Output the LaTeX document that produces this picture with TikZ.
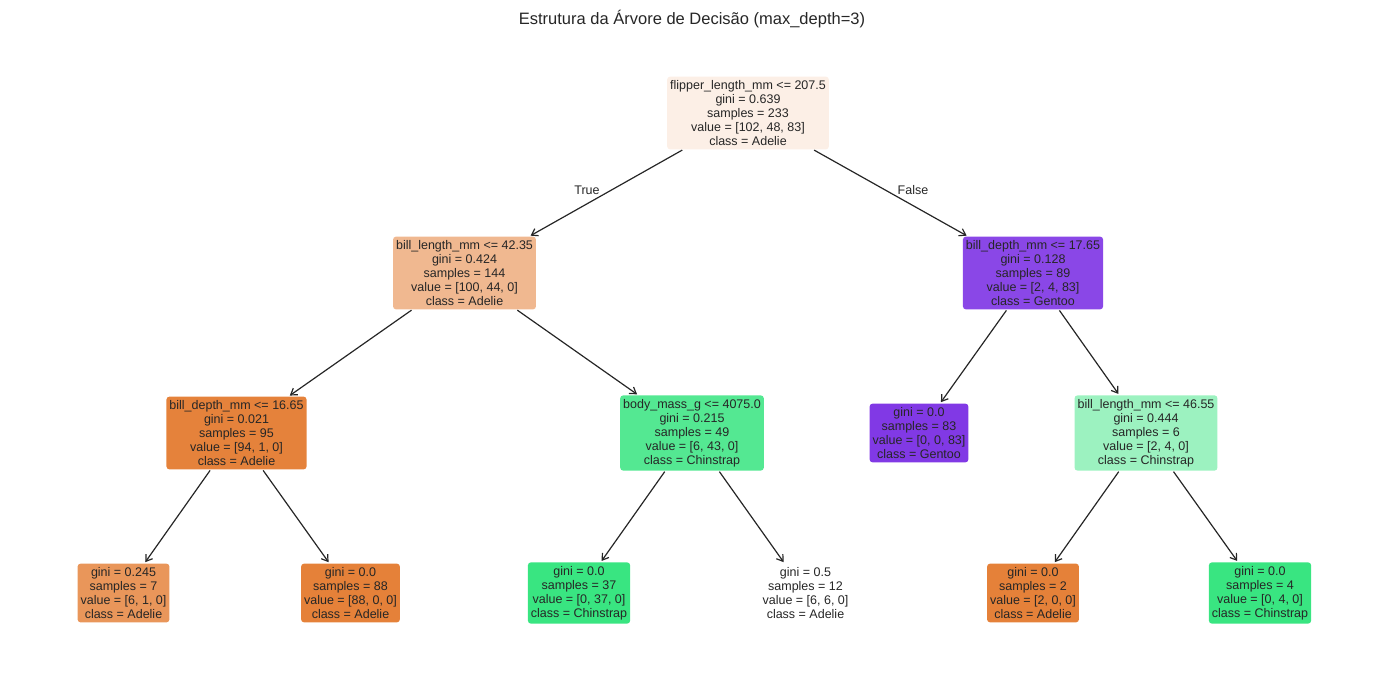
\documentclass[tikz,border=0pt]{standalone}
\usepackage{fontspec}
\setmainfont{Liberation Sans}
\usetikzlibrary{arrows.meta}
\definecolor{txt}{HTML}{262626}
\definecolor{cRoot}{HTML}{FCEFE6}
\definecolor{cA}{HTML}{F0B890}
\definecolor{cB}{HTML}{8A47E7}
\definecolor{cC}{HTML}{E5823B}
\definecolor{cD}{HTML}{54E892}
\definecolor{cE}{HTML}{8139E5}
\definecolor{cF}{HTML}{9CF2C0}
\definecolor{cG}{HTML}{E9965A}
\definecolor{cH}{HTML}{E58139}
\definecolor{cI}{HTML}{39E581}
\begin{document}
\begin{tikzpicture}[x=1pt,y=-1pt,
  tnode/.style={rounded corners=3pt, align=center, inner xsep=3pt, inner ysep=3.8pt,
    text=txt, font=\fontsize{12.5}{14}\selectfont},
  edge/.style={draw=txt, line width=1.2pt, shorten >=1.5pt, shorten <=1pt,
    -{Straight Barb[length=6pt,width=8pt,line width=1.2pt]}},
  lbl/.style={text=txt, font=\fontsize{12.5}{14}\selectfont}]
\useasboundingbox (0,0) rectangle (1384,684);
\node[text=txt, font=\fontsize{16.5}{18}\selectfont] (title) at (692,19) {Estrutura da Árvore de Decisão (max\_depth=3)};
\node[tnode, fill=cRoot] (root) at (748,113) {flipper\_length\_mm <= 207.5\\gini = 0.639\\samples = 233\\value = [102, 48, 83]\\class = Adelie};
\node[tnode, fill=cA] (n1) at (464.5,273) {bill\_length\_mm <= 42.35\\gini = 0.424\\samples = 144\\value = [100, 44, 0]\\class = Adelie};
\node[tnode, fill=cB] (n2) at (1033,273) {bill\_depth\_mm <= 17.65\\gini = 0.128\\samples = 89\\value = [2, 4, 83]\\class = Gentoo};
\node[tnode, fill=cC] (n3) at (236.5,433) {bill\_depth\_mm <= 16.65\\gini = 0.021\\samples = 95\\value = [94, 1, 0]\\class = Adelie};
\node[tnode, fill=cD] (n4) at (692,433) {body\_mass\_g <= 4075.0\\gini = 0.215\\samples = 49\\value = [6, 43, 0]\\class = Chinstrap};
\node[tnode, fill=cE] (n5) at (919,433) {gini = 0.0\\samples = 83\\value = [0, 0, 83]\\class = Gentoo};
\node[tnode, fill=cF] (n6) at (1146,433) {bill\_length\_mm <= 46.55\\gini = 0.444\\samples = 6\\value = [2, 4, 0]\\class = Chinstrap};
\node[tnode, fill=cG] (l1) at (123.5,593) {gini = 0.245\\samples = 7\\value = [6, 1, 0]\\class = Adelie};
\node[tnode, fill=cH] (l2) at (350.5,593) {gini = 0.0\\samples = 88\\value = [88, 0, 0]\\class = Adelie};
\node[tnode, fill=cI] (l3) at (579,593) {gini = 0.0\\samples = 37\\value = [0, 37, 0]\\class = Chinstrap};
\node[tnode, fill=white] (l4) at (805.5,593) {gini = 0.5\\samples = 12\\value = [6, 6, 0]\\class = Adelie};
\node[tnode, fill=cH] (l5) at (1033,593) {gini = 0.0\\samples = 2\\value = [2, 0, 0]\\class = Adelie};
\node[tnode, fill=cI] (l6) at (1260,593) {gini = 0.0\\samples = 4\\value = [0, 4, 0]\\class = Chinstrap};
\draw[edge] (root) -- (n1);
\draw[edge] (root) -- (n2);
\draw[edge] (n1) -- (n3);
\draw[edge] (n1) -- (n4);
\draw[edge] (n2) -- (n5);
\draw[edge] (n2) -- (n6);
\draw[edge] (n3) -- (l1);
\draw[edge] (n3) -- (l2);
\draw[edge] (n4) -- (l3);
\draw[edge] (n4) -- (l4);
\draw[edge] (n6) -- (l5);
\draw[edge] (n6) -- (l6);
\node[lbl] (true) at (587,190) {True};
\node[lbl] (false) at (913,190) {False};
\end{tikzpicture}
\end{document}
